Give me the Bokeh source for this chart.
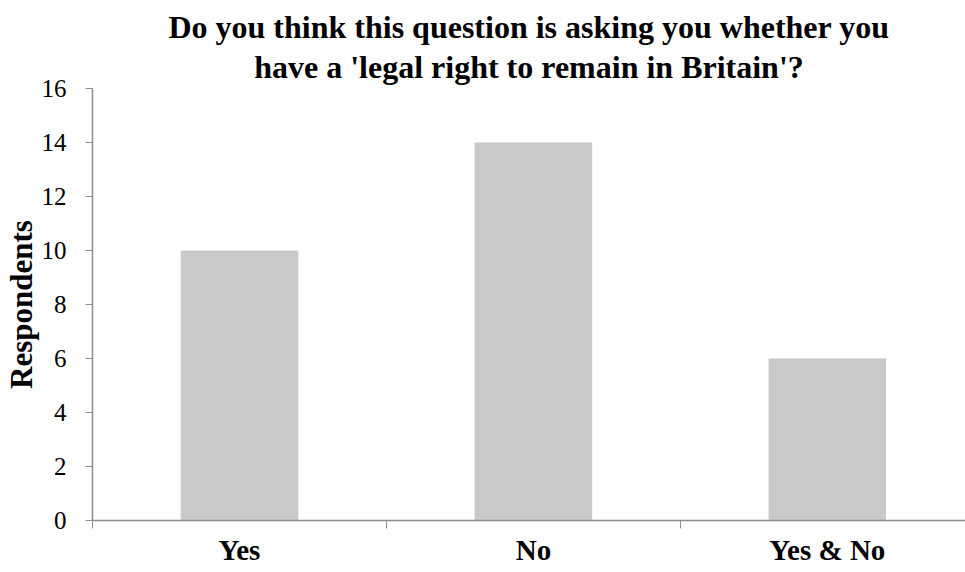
from bokeh.plotting import figure
from bokeh.models import FixedTicker, Range1d, Title
from bokeh.embed import file_html
from bokeh.resources import INLINE

categories = ["Yes", "No", "Yes & No"]
respondents = [10, 14, 6]
y_ticks = [0, 2, 4, 6, 8, 10, 12, 14, 16]

centers = [i + 0.5 for i in range(len(categories))]

p = figure(width=965, height=572, output_backend="svg", toolbar_location=None,
           x_range=Range1d(0, 2.97), y_range=Range1d(0, 16),
           min_border_left=92, min_border_right=0, min_border_bottom=52, min_border_top=88)
p.title = None
p.add_layout(Title(text="have a 'legal right to remain in Britain'?", align="center",
                   text_font="Liberation Serif", text_font_size="32px",
                   text_font_style="bold", text_color="black", standoff=8, offset=0), "above")
p.add_layout(Title(text="Do you think this question is asking you whether you", align="center",
                   text_font="Liberation Serif", text_font_size="32px",
                   text_font_style="bold", text_color="black", standoff=-5, offset=0), "above")

p.vbar(x=centers, top=respondents, width=0.4, color="#c9c9c9", line_color=None)

p.outline_line_color = None
p.xgrid.visible = False
p.ygrid.visible = False

ax = p.xaxis[0]
ax.ticker = FixedTicker(ticks=centers, minor_ticks=[0, 1, 2, 3])
ax.major_label_overrides = {c: lab for c, lab in zip(centers, categories)}
ax.major_tick_line_color = None
ax.major_tick_in = 0
ax.major_tick_out = 4
ax.minor_tick_in = 0
ax.minor_tick_out = 8
ax.minor_tick_line_color = "#8c8c8c"
ax.axis_line_color = "#8c8c8c"
ax.axis_line_width = 1.5
ax.major_label_text_font = "Liberation Serif"
ax.major_label_text_font_style = "bold"
ax.major_label_text_font_size = "29px"
ax.major_label_text_color = "black"
ax.major_label_standoff = 5

ay = p.yaxis[0]
ay.ticker = FixedTicker(ticks=y_ticks, minor_ticks=[])
ay.major_tick_in = 0
ay.major_tick_out = 7
ay.major_tick_line_color = "#8c8c8c"
ay.axis_line_color = "#8c8c8c"
ay.axis_line_width = 1.5
ay.major_label_text_font = "Liberation Serif"
ay.major_label_text_font_size = "25px"
ay.major_label_text_color = "black"
ay.major_label_standoff = 19
ay.axis_label = "Respondents"
ay.axis_label_text_font = "Liberation Serif"
ay.axis_label_text_font_style = "bold"
ay.axis_label_text_font_size = "31px"
ay.axis_label_text_color = "black"
ay.axis_label_standoff = 0

open("out.html", "w").write(file_html(p, INLINE))
